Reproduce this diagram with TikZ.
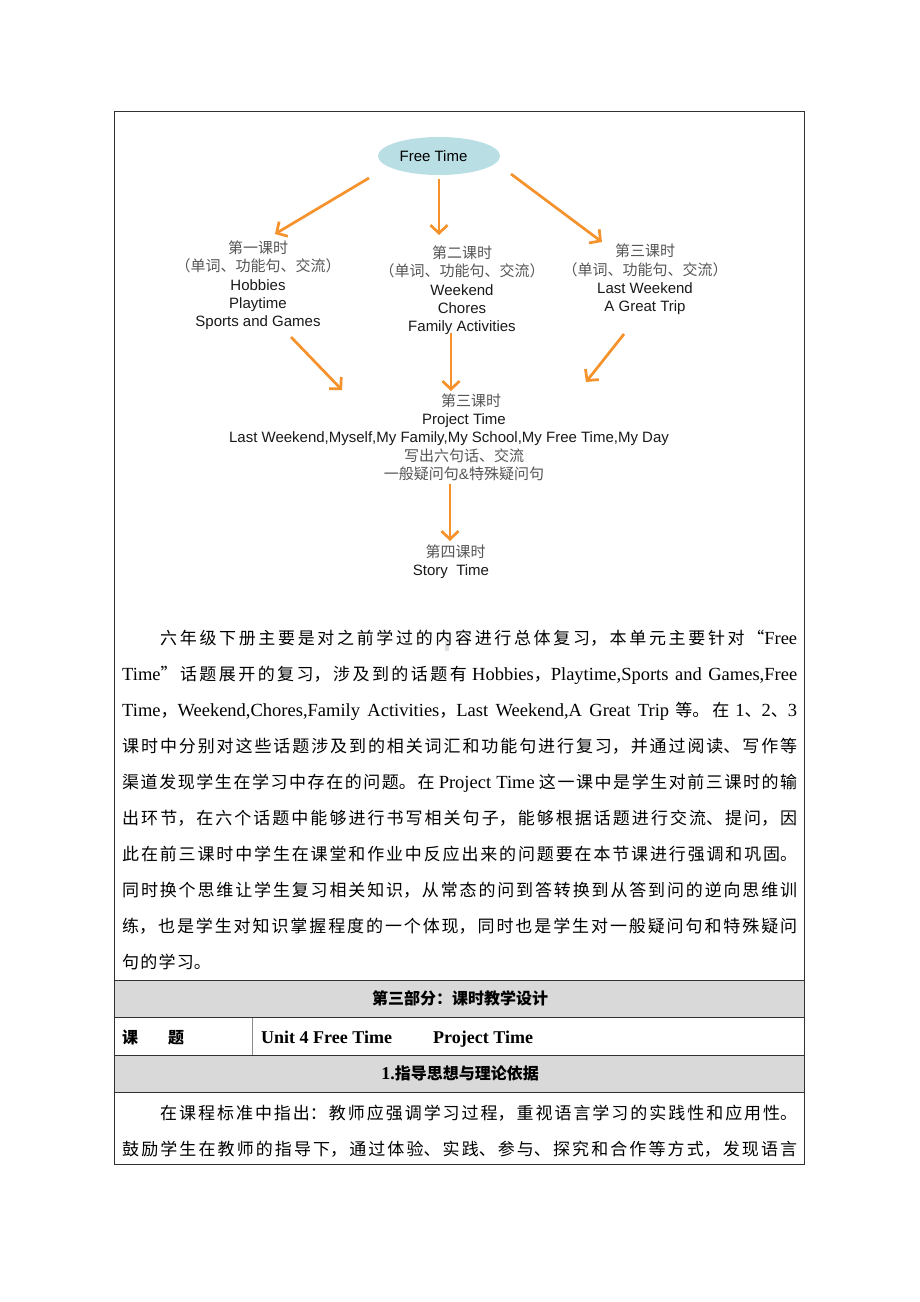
\documentclass[tikz,border=0pt]{standalone}
\usepackage{fontspec}
\setmainfont{Noto Sans CJK SC}
\newfontfamily\tnr{Liberation Serif}
\newfontfamily\arial{Liberation Sans}
\usetikzlibrary{arrows.meta}
\usetikzlibrary{shapes.geometric}

\XeTeXlinebreaklocale "zh"
\XeTeXlinebreakskip=1.2pt plus 1.5pt minus 0.6pt

\definecolor{flowarrow}{RGB}{246,146,44}
\definecolor{topicfill}{RGB}{185,222,228}
\definecolor{rowgray}{RGB}{217,217,217}
\definecolor{cjkgray}{RGB}{85,85,85}
\definecolor{rule}{RGB}{50,50,50}

\newcommand{\zh}[1]{{\color{cjkgray}#1}}
\newcommand{\en}[1]{{\arial #1}}
\newcommand{\tm}[1]{{\tnr\fontsize{18.5pt}{36pt}\selectfont #1}}

\tikzset{
  flow/.style={draw=flowarrow, line width=2.7pt, -{Straight Barb[length=8pt,width=17pt]}},
  lesson/.style={align=center, inner sep=0pt, text=black!90, font=\fontsize{15pt}{18.3pt}\selectfont},
  bodytext/.style={anchor=north west, inner sep=0pt, text width=675pt, align=justify,
    font=\fontsize{17pt}{36pt}\selectfont},
  heading/.style={inner sep=0pt, font=\bfseries\fontsize{16pt}{20pt}\selectfont},
  tableline/.style={draw=rule, line width=1pt},
}

\begin{document}
\begin{tikzpicture}[x=1pt,y=-1pt]
    \useasboundingbox[fill=white] (0,0) rectangle (920,1302);

    % Table
    \fill[rowgray] (114,980) rectangle (804,1017.5);
    \fill[rowgray] (114,1055) rectangle (804,1092);
    \draw[tableline] (114,111) rectangle (804,1164);
    \draw[tableline] (114,980) -- (804,980);
    \draw[tableline] (114,1017.5) -- (804,1017.5);
    \draw[tableline] (114,1055) -- (804,1055);
    \draw[tableline] (114,1092) -- (804,1092);
    \draw[draw=black!45, line width=1pt] (252,1017.5) -- (252,1055);

    % Topic
    \node[ellipse, fill=topicfill, minimum width=122pt, minimum height=38pt, inner sep=0pt,
      font=\arial\fontsize{15pt}{18pt}\selectfont] (freetime) at (439,156) {Free Time\hspace*{11pt}};

    % Lessons
    \node[lesson] (lesson1) at (258,285.5)
      {\zh{第一课时}\\\zh{（单词、功能句、交流）}\\\en{Hobbies}\\\en{Playtime}\\\en{Sports and Games}};
    \node[lesson] (lesson2) at (462,290.5)
      {\zh{第二课时}\\\zh{（单词、功能句、交流）}\\\en{Weekend}\\\en{Chores}\\\en{Family Activities}};
    \node[lesson] (lesson3) at (645,279.5)
      {\zh{第三课时}\\\zh{（单词、功能句、交流）}\\\en{Last Weekend}\\\en{A Great Trip}};
    \node[lesson] (project) at (449,437)
      {\hspace*{44pt}\zh{第三课时}\\\hspace*{30pt}\en{Project Time}\\
       \en{Last Weekend,Myself,My Family,My School,My Free Time,My Day}\\
       \hspace*{30pt}\zh{写出六句话、交流}\\\hspace*{30pt}\zh{一般疑问句\en{\&}特殊疑问句}};
    \node[lesson] (story) at (451,562) {\hspace*{9pt}\zh{第四课时}\\\en{Story\ \ Time}};

    % Arrows
    \coordinate (ft-l) at (369,178);  \coordinate (l1-in) at (275,234);
    \coordinate (ft-m) at (439,179);  \coordinate (l2-in) at (439,235);
    \coordinate (ft-r) at (511,174);  \coordinate (l3-in) at (602,242);
    \coordinate (l1-out) at (291,337); \coordinate (pj-l) at (342,390);
    \coordinate (l2-out) at (451,333); \coordinate (pj-m) at (451,391);
    \coordinate (l3-out) at (624,334); \coordinate (pj-r) at (586,382);
    \coordinate (pj-out) at (450,484); \coordinate (st-in) at (450,541);
    \draw[flow] (ft-l) -- (l1-in);
    \draw[flow] (ft-m) -- (l2-in);
    \draw[flow] (ft-r) -- (l3-in);
    \draw[flow] (l1-out) -- (pj-l);
    \draw[flow] (l2-out) -- (pj-m);
    \draw[flow] (l3-out) -- (pj-r);
    \draw[flow] (pj-out) -- (st-in);

    % Summary
    \fill[black!12] (445,641) rectangle (449,651);
    \node[bodytext] (summary) at (122,618.6) {\strut\hspace*{38pt}六年级下册主要是对之前学过的内容进行总体复习，本单元主要针对“\tm{Free}\linebreak
      \tm{Time}”话题展开的复习，涉及到的话题有 \tm{Hobbies}，\tm{Playtime,Sports and Games,Free}\linebreak
      \tm{Time}，\tm{Weekend,Chores,Family Activities}，\tm{Last Weekend,A Great Trip} 等。在 \tm{1}、\tm{2}、\tm{3}\linebreak
      课时中分别对这些话题涉及到的相关词汇和功能句进行复习，并通过阅读、写作等\linebreak
      渠道发现学生在学习中存在的问题。在 \tm{Project Time} 这一课中是学生对前三课时的输\linebreak
      出环节，在六个话题中能够进行书写相关句子，能够根据话题进行交流、提问，因\linebreak
      此在前三课时中学生在课堂和作业中反应出来的问题要在本节课进行强调和巩固。\linebreak
      同时换个思维让学生复习相关知识，从常态的问到答转换到从答到问的逆向思维训\linebreak
      练，也是学生对知识掌握程度的一个体现，同时也是学生对一般疑问句和特殊疑问\linebreak
      句的学习。};

    % Lesson design rows
    \node[heading, anchor=base] (part3) at (460,1004.5) {第三部分：课时教学设计};
    \node[heading, anchor=base west] (topic) at (122,1043) {课\hspace{30pt}题};
    \node[heading, anchor=base west, font=\tnr\bfseries\fontsize{18pt}{20pt}\selectfont] (unit) at (261,1043) {Unit 4 Free Time};
    \node[heading, anchor=base west, font=\tnr\bfseries\fontsize{18pt}{20pt}\selectfont] (unitpart) at (433,1043) {Project Time};
    \node[heading, anchor=base] (guide) at (460,1079.5) {{\tnr\fontsize{18pt}{20pt}\selectfont\bfseries 1.}指导思想与理论依据};
    \node[bodytext] (theory) at (122,1093.6) {\strut\hspace*{38pt}在课程标准中指出：教师应强调学习过程，重视语言学习的实践性和应用性。\linebreak
      鼓励学生在教师的指导下，通过体验、实践、参与、探究和合作等方式，发现语言\linebreak};
\end{tikzpicture}
\end{document}
